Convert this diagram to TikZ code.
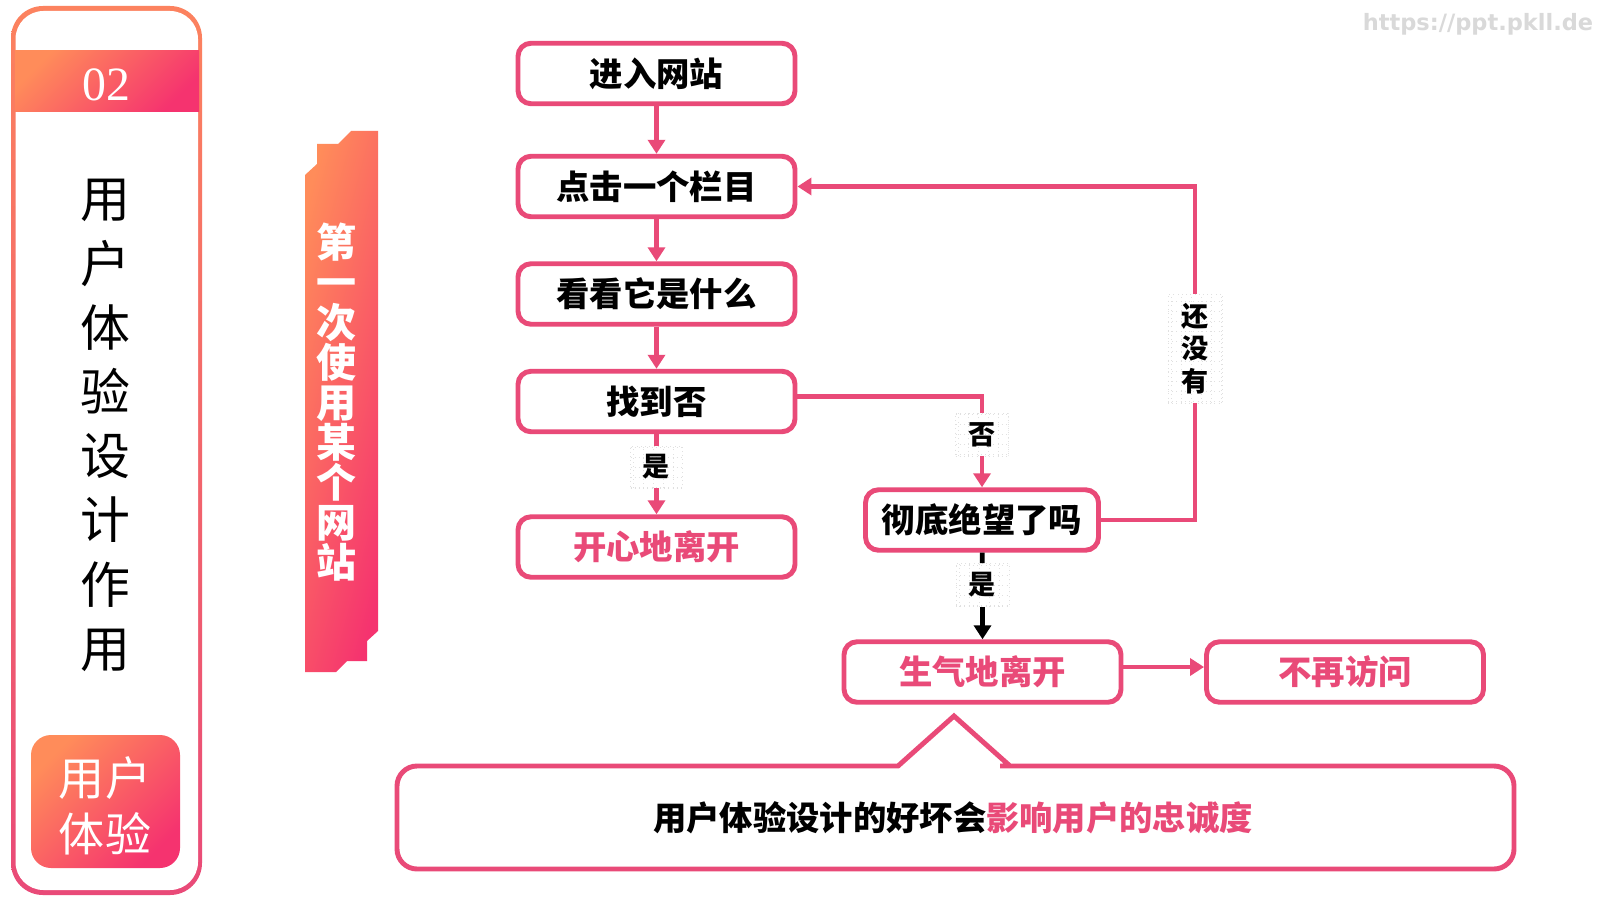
\documentclass[tikz,border=0pt]{standalone}
\usepackage{fontspec}
\setmainfont{Liberation Serif}
\newfontfamily\cjk{Noto Sans CJK SC}
\newfontfamily\urlfont{DejaVu Sans}
\usetikzlibrary{arrows.meta}
\definecolor{flowpink}{HTML}{E94A78}
\definecolor{gradstart}{HTML}{FF8C5A}
\definecolor{gradend}{HTML}{F5336F}
\newcommand{\pxfont}[2]{\fontsize{#1}{#2}\selectfont}
\tikzset{
    flowbox/.style={draw=flowpink, line width=1.4pt, rounded corners=0.13cm, fill=white,
        minimum width=2.77cm, minimum height=0.605cm, inner sep=0pt,
        font=\cjk\bfseries\pxfont{9.5}{11}},
    flowline/.style={draw=flowpink, line width=1.35pt},
    flowarrow/.style={flowline, -{Triangle[length=0.14cm,width=0.17cm]}},
    decision/.style={inner sep=0pt, font=\cjk\bfseries\pxfont{7.7}{9.3}, align=center,
        draw=black!12, densely dotted, line width=0.2pt,
        path picture={\draw[black!12, densely dotted, line width=0.2pt, step=0.1]
            (path picture bounding box.south west) grid (path picture bounding box.north east);}},
    gradfill/.style={shading=axis, left color=gradstart, right color=gradend, shading angle=45, draw=none}
}
\begin{document}
\begin{tikzpicture}
    \useasboundingbox (0,0) rectangle (16,9);
    \fill[white] (0,0) rectangle (16,9);

    % Left panel
    \shade[top color=gradstart!85!flowpink, bottom color=flowpink, rounded corners=0.32cm] (0.11,0.05) rectangle (2.02,8.94);
    \fill[white, rounded corners=0.28cm] (0.155,0.10) rectangle (1.98,8.89);
    \shade[gradfill] (0.15,7.88) rectangle (1.99,8.49);
    \node[text=white, font=\pxfont{13.6}{16}] (chapter) at (1.06,8.15) {02};
    \node[align=center, font=\cjk\pxfont{14.2}{18.27}] (title) at (1.05,4.745) {用\\户\\体\\验\\设\\计\\作\\用};
    \shade[gradfill, rounded corners=0.2cm] (0.31,0.32) rectangle (1.80,1.65);
    \node[text=white, align=center, font=\cjk\pxfont{13.1}{16}] (tag) at (1.05,0.94) {用户\\体验};

    % Banner
    \shade[gradfill, shading angle=75] (3.78,7.69) -- (3.51,7.69) -- (3.38,7.56) -- (3.17,7.56) -- (3.17,7.36) -- (3.05,7.25)
        -- (3.05,2.28) -- (3.36,2.28) -- (3.47,2.39) -- (3.67,2.39) -- (3.67,2.59) -- (3.78,2.69) -- cycle;
    \node[text=white, align=center, font=\cjk\bfseries\pxfont{11.38}{11.38}] (banner) at (3.36,4.98)
        {第\\一\\次\\使\\用\\某\\个\\网\\站};

    % Nodes
    \node[flowbox] (enter) at (6.565,8.265) {进入网站};
    \node[flowbox] (click) at (6.565,7.135) {点击一个栏目};
    \node[flowbox] (look) at (6.565,6.06) {看看它是什么};
    \node[flowbox] (found) at (6.565,4.985) {找到否};
    \node[flowbox, text=flowpink] (happy) at (6.565,3.53) {开心地离开};
    \node[flowbox, minimum width=2.33cm] (despair) at (9.82,3.80) {彻底绝望了吗};
    \node[flowbox, text=flowpink] (angry) at (9.825,2.28) {生气地离开};
    \node[flowbox, text=flowpink] (never) at (13.45,2.28) {不再访问};

    % Labels
    \node[decision, minimum width=0.52cm, minimum height=0.42cm] (yes1) at (6.565,4.33) {是};
    \node[decision, minimum width=0.53cm, minimum height=0.43cm] (no) at (9.82,4.655) {否};
    \node[decision, minimum width=0.53cm, minimum height=0.43cm] (yes2) at (9.825,3.15) {是};
    \node[decision, minimum width=0.54cm, minimum height=1.09cm] (notyet) at (11.95,5.515) {还\\没\\有};

    % Connections
    \draw[flowarrow] (enter) -- (click);
    \draw[flowarrow] (click) -- (look);
    \draw[flowarrow] (look) -- (found);
    \draw[flowline] (found) -- (yes1);
    \draw[flowarrow] (yes1) -- (happy);
    \draw[flowline] ([yshift=0.05cm]found.east) -| (no);
    \draw[flowarrow] (no) -- (despair);
    \draw[flowline] (despair.east) -| (notyet);
    \draw[flowarrow] (notyet) |- (click.east);
    \draw[flowline, draw=black] (despair) -- (yes2);
    \draw[flowarrow, draw=black, fill=black] (yes2) -- (angry);
    \draw[flowarrow] ([yshift=0.05cm]angry.east) -- ([yshift=0.05cm]never.west);

    % Callout
    \draw[flowline, line width=1.4pt, rounded corners=0.2cm] (9,0.31) -- (15.14,0.31) -- (15.14,1.34) -- (10.2,1.34)
        [sharp corners] -- (10.10,1.34) -- (9.54,1.84) -- (8.98,1.34) -- (8.9,1.34)
        [rounded corners=0.2cm] -- (3.97,1.34) -- (3.97,0.31) -- cycle;
    \node[font=\cjk\bfseries\pxfont{9.48}{11}] (moral) at (9.53,0.82) {用户体验设计的好坏会\textcolor{flowpink}{影响用户的忠诚度}};

    % Watermark
    \node[text=black!15, font=\urlfont\bfseries\pxfont{6.4}{8}] (mark) at (14.78,8.76) {https://ppt.pkll.de};
\end{tikzpicture}
\end{document}
